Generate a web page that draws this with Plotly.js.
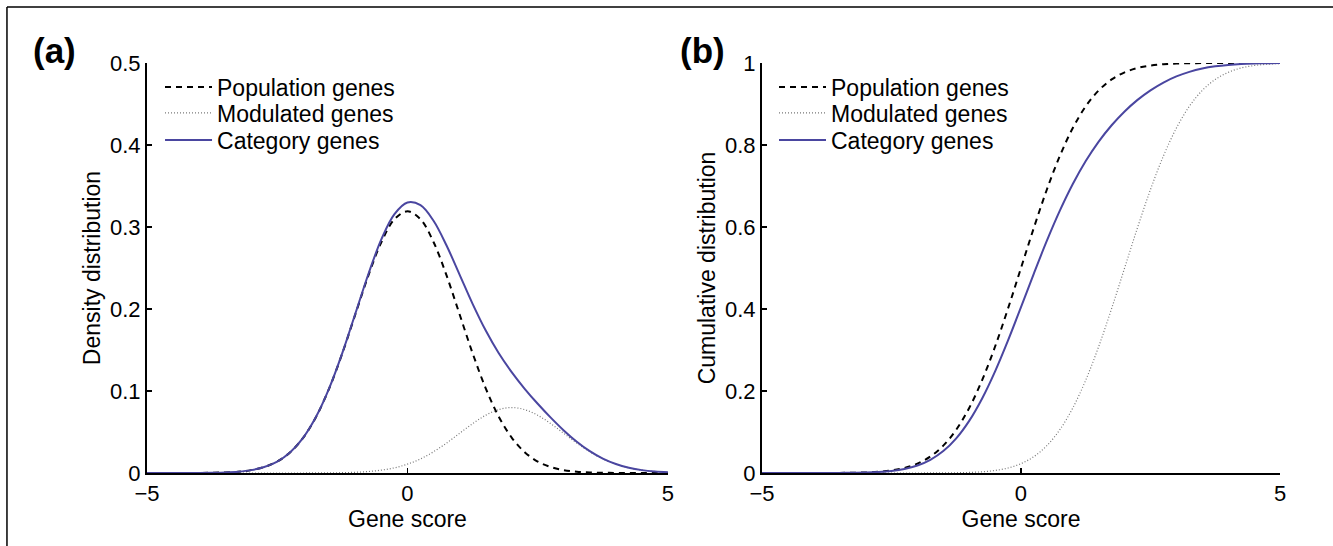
<!DOCTYPE html>
<html>
<head>
<meta charset="utf-8">
<script src="https://cdn.plot.ly/plotly-3.0.1.min.js"></script>
<style>
  html, body { margin: 0; padding: 0; background: #fff; }
  #chart { width: 1333px; height: 546px; }
</style>
</head>
<body>
<div id="chart"></div>
<script>
// Gene score grid (x values)
const geneScore = [-5,-4.75,-4.5,-4.25,-4,-3.75,-3.5,-3.25,-3,-2.75,-2.5,-2.25,-2,-1.75,-1.5,-1.25,-1,-0.75,-0.5,-0.25,0,
  0.25,0.5,0.75,1,1.25,1.5,1.75,2,2.25,2.5,2.75,3,3.25,3.5,3.75,4,4.25,4.5,4.75,5];

// (a) Density distribution
const popDensity = [0,0,0.00001,0.00004,0.0001,0.0003,0.0007,0.0016,0.0035,0.0073,0.014,0.0254,0.0432,0.069,0.1036,0.1461,0.1936,0.2409,0.2817,0.3094,0.3191,
  0.3094,0.2817,0.2409,0.1936,0.1461,0.1036,0.069,0.0432,0.0254,0.014,0.0073,0.0035,0.0016,0.0007,0.0003,0.0001,0.00004,0.00001,0,0];
const modDensity = [0,0,0,0,0,0,0,0,0,0,0,0.00001,0.00003,0.00007,0.00017,0.0004,0.0009,0.0018,0.0035,0.0063,0.0108,
  0.0172,0.0259,0.0365,0.0484,0.0602,0.0704,0.0773,0.0798,0.0773,0.0704,0.0602,0.0484,0.0365,0.0259,0.0172,0.0108,0.0063,0.0035,0.0018,0.0009];
const catDensity = [0,0,0.00001,0.00004,0.0001,0.0003,0.0007,0.0016,0.0035,0.0073,0.014,0.0254,0.0432,0.0691,0.1038,0.1465,0.1945,0.2427,0.2852,0.3157,0.3299,
  0.3266,0.3076,0.2774,0.242,0.2063,0.174,0.1463,0.123,0.1027,0.0844,0.0675,0.0519,0.0381,0.0266,0.0175,0.0109,0.0064,0.0035,0.0018,0.0009];

// (b) Cumulative distribution
const popCum = [0,0,0,0.00001,0.00003,0.0001,0.0002,0.0006,0.0013,0.003,0.0062,0.0122,0.0228,0.0401,0.0668,0.1056,0.1587,0.2266,0.3085,0.4013,0.5,
  0.5987,0.6915,0.7734,0.8413,0.8944,0.9332,0.9599,0.9772,0.9878,0.9938,0.997,0.9987,0.9994,0.9998,0.9999,1,1,1,1,1];
const modCum = [0,0,0,0,0,0,0,0,0,0,0,0,0.00003,0.0001,0.0002,0.0006,0.0013,0.003,0.0062,0.0122,0.0228,
  0.0401,0.0668,0.1056,0.1587,0.2266,0.3085,0.4013,0.5,0.5987,0.6915,0.7734,0.8413,0.8944,0.9332,0.9599,0.9772,0.9878,0.9938,0.997,0.9987];
const catCum = [0,0,0,0.00001,0.00002,0.0001,0.0002,0.0005,0.001,0.0024,0.005,0.0098,0.0182,0.0321,0.0535,0.0846,0.1272,0.1819,0.248,0.3235,0.4046,
  0.487,0.5666,0.6398,0.7048,0.7608,0.8083,0.8482,0.8818,0.91,0.9333,0.9523,0.9672,0.9784,0.9865,0.9919,0.9954,0.9976,0.9988,0.9994,0.9997];

const seriesNames = ['Population genes', 'Modulated genes', 'Category genes'];
const panelLabels = ['(a)', '(b)'];
const xTicks = [-5, 0, 5];
const yTicksA = [0, 0.1, 0.2, 0.3, 0.4, 0.5];
const yTicksB = [0, 0.2, 0.4, 0.6, 0.8, 1];

const FONT = 'Liberation Sans, Arial, Helvetica, sans-serif';
const styles = [
  {color: '#000000', width: 2, dash: '6px,5px'},
  {color: '#777777', width: 1.2, dash: '1px,2px'},
  {color: '#4a46a0', width: 2, dash: 'solid'}
];

// one legend per entry so rows sit at the reference spacing
const legendRowsY = [0.9415, 0.878, 0.8122];

function mk(y, i, xa, ya, legIdx) {
  return {
    x: geneScore, y: y, type: 'scatter', mode: 'lines',
    name: seriesNames[i], xaxis: xa, yaxis: ya,
    legend: legIdx === 1 ? 'legend' : 'legend' + legIdx,
    line: Object.assign({shape: 'spline', smoothing: 1}, styles[i]),
    hoverinfo: 'skip'
  };
}

const traces = [
  mk(popDensity, 0, 'x', 'y', 1),
  mk(modDensity, 1, 'x', 'y', 2),
  mk(catDensity, 2, 'x', 'y', 3),
  mk(popCum, 0, 'x2', 'y2', 4),
  mk(modCum, 1, 'x2', 'y2', 5),
  mk(catCum, 2, 'x2', 'y2', 6)
];

const tickFont = {family: FONT, size: 22, color: '#000'};
const titleFont = {family: FONT, size: 23, color: '#000'};

function xAxis(domain, anchor) {
  return {
    domain: domain, anchor: anchor, range: [-5, 5],
    tickvals: xTicks, ticks: 'inside', ticklen: 5, tickwidth: 1.5, tickcolor: '#000',
    showline: true, linewidth: 2, linecolor: '#000', showgrid: false, zeroline: false,
    tickfont: tickFont, title: {text: 'Gene score', font: titleFont, standoff: 2}
  };
}
function yAxis(anchor, range, ticks, title) {
  return {
    domain: [0, 1], anchor: anchor, range: range,
    tickvals: ticks, ticks: 'inside', ticklen: 5, tickwidth: 1.5, tickcolor: '#000',
    showline: true, linewidth: 2, linecolor: '#000', showgrid: false, zeroline: false,
    tickfont: tickFont, title: {text: title, font: titleFont, standoff: 3}
  };
}

function legendAt(x, row, iw) {
  return {
    x: x, y: legendRowsY[row], xanchor: 'left', yanchor: 'middle',
    font: {family: FONT, size: 23, color: '#000'},
    bgcolor: 'rgba(0,0,0,0)', borderwidth: 0, itemwidth: iw
  };
}

const layout = {
  width: 1333, height: 546,
  margin: {l: 147, r: 53, t: 63, b: 73},
  paper_bgcolor: '#fff', plot_bgcolor: '#fff',
  showlegend: true,
  xaxis: xAxis([0, 0.4598], 'y'),
  yaxis: yAxis('x', [0, 0.5], yTicksA, 'Density distribution'),
  xaxis2: xAxis([0.5428, 1.0], 'y2'),
  yaxis2: yAxis('x2', [0, 1], yTicksB, 'Cumulative distribution'),
  legend: legendAt(0.0115, 0, 47),
  legend2: legendAt(0.0115, 1, 47),
  legend3: legendAt(0.0115, 2, 47),
  legend4: legendAt(0.5534, 0, 47),
  legend5: legendAt(0.5534, 1, 47),
  legend6: legendAt(0.5534, 2, 47),
  annotations: [
    {text: '<b>' + panelLabels[0] + '</b>', xref: 'paper', yref: 'paper', x: -0.1024, y: 1.03,
     xanchor: 'left', yanchor: 'middle', showarrow: false, font: {family: FONT, size: 35, color: '#000'}},
    {text: '<b>' + panelLabels[1] + '</b>', xref: 'paper', yref: 'paper', x: 0.4684, y: 1.03,
     xanchor: 'left', yanchor: 'middle', showarrow: false, font: {family: FONT, size: 35, color: '#000'}}
  ],
  shapes: [
    {type: 'line', xref: 'paper', yref: 'paper', x0: -0.1236, x1: 1.05, y0: 1.1366, y1: 1.1366,
     line: {color: '#000', width: 1.5}},
    {type: 'line', xref: 'paper', yref: 'paper', x0: -0.1236, x1: -0.1236, y0: 1.1366, y1: -0.2,
     line: {color: '#000', width: 1.5}}
  ]
};

Plotly.newPlot('chart', traces, layout, {displayModeBar: false, staticPlot: true});
</script>
</body>
</html>
